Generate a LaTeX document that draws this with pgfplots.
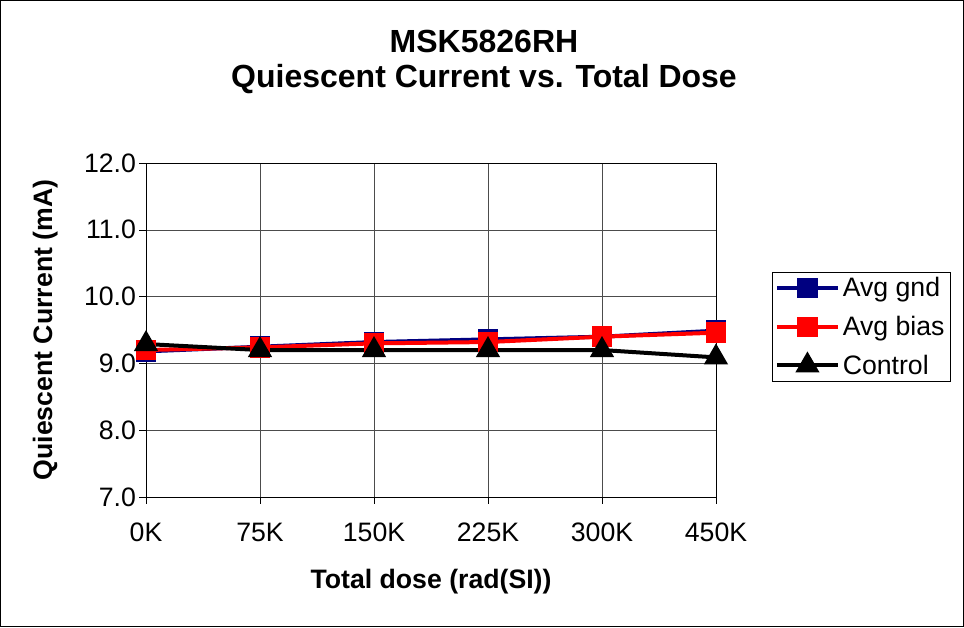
\documentclass[border=0pt]{standalone}
\usepackage{pgfplots}
\pgfplotsset{compat=1.18}
\usepackage{fontspec}
\setmainfont{Liberation Sans}
\definecolor{navyb}{RGB}{0,0,128}
\begin{document}
\begin{tikzpicture}
\begin{axis}[
  at={(0pt,0pt)}, anchor=south west,
  scale only axis, width=427.5pt, height=250.5pt,
  xmin=0, xmax=5, ymin=7, ymax=12,
  xtick={0,1,2,3,4,5},
  xticklabels={0K,75K,150K,225K,300K,450K},
  ytick={7,8,9,10,11,12},
  xtick pos=lower, ytick pos=left,
  ticklabel style={font=\fontsize{20}{24}\selectfont},
  xticklabel style={yshift=-11pt},
  yticklabel style={xshift=1pt, /pgf/number format/.cd, fixed, fixed zerofill, precision=1},
  /pgf/number format/assume math mode=true,
  tick align=outside, tick style={black, thin}, major tick length=5pt,
  xmajorgrids, ymajorgrids,
  grid style={black!70, thin},
  axis line style={black, thin},
  xlabel={Total dose (rad(SI))},
  ylabel={Quiescent Current (mA)},
  label style={font=\fontsize{20}{24}\bfseries\selectfont},
  xlabel style={at={(axis description cs:0.5,-0.254)}, anchor=center},
  ylabel style={at={(axis description cs:-0.177,0.5)}, anchor=center},
  legend style={at={(axis description cs:1.098,0.674)}, anchor=north west,
    draw=black, thin, font=\fontsize{20}{24}\selectfont, inner sep=2pt,
    row sep=9pt},
  legend cell align=left,
  legend image code/.code={\draw[mark repeat=2,mark phase=2,#1] plot coordinates {(0pt,0pt) (23pt,0pt) (46pt,0pt)};},
  clip=false,
]
\addplot[navyb, line width=3pt, mark=square*, mark size=6.2pt, mark options={solid}] coordinates {(0,9.18) (1,9.25) (2,9.32) (3,9.36) (4,9.40) (5,9.49)};
\addlegendentry{Avg gnd}
\addplot[red, line width=3pt, mark=square*, mark size=6.2pt] coordinates {(0,9.20) (1,9.24) (2,9.30) (3,9.32) (4,9.40) (5,9.46)};
\addlegendentry{Avg bias}
\addplot[black, line width=3pt, mark=triangle*, mark size=7.5pt] coordinates {(0,9.29) (1,9.20) (2,9.20) (3,9.20) (4,9.20) (5,9.09)};
\addlegendentry{Control}
\end{axis}
\begin{scope}[x=0.75pt,y=0.75pt]
\draw[black, line width=0.8pt] (-145.5,-129.5) rectangle (817.5,496.5);
\node[font=\fontsize{24}{26}\bfseries\selectfont, align=center] at (338,435) {MSK5826RH\\Quiescent Current vs. Total Dose};
\end{scope}
\end{tikzpicture}
\end{document}
